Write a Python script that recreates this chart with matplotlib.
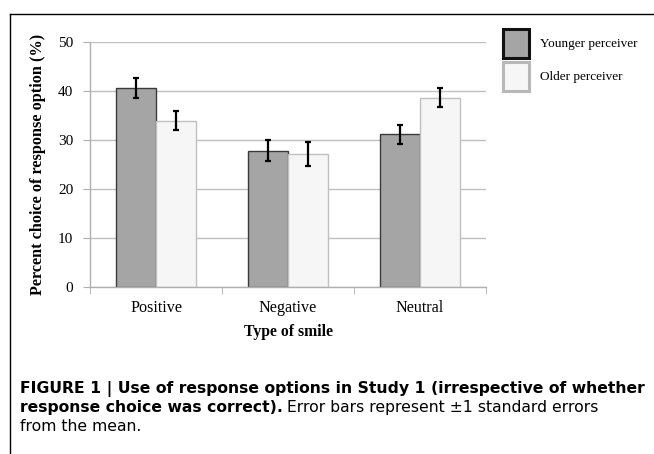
import numpy as np
import matplotlib
matplotlib.use("Agg")
import matplotlib.pyplot as plt
from matplotlib.patches import Patch
from matplotlib.lines import Line2D

categories = ["Positive", "Negative", "Neutral"]
younger = [40.7, 27.9, 31.2]
younger_se = [2.0, 2.1, 2.0]
older = [34.0, 27.2, 38.7]
older_se = [1.9, 2.4, 2.0]
yticks = [0, 10, 20, 30, 40, 50]

serif = "Liberation Serif"
sans = "DejaVu Sans"

fig = plt.figure(figsize=(6.54, 4.54), dpi=100)
ax = fig.add_axes([90/654, 1-287.3/454, 396/654, 245/454])

x = np.arange(len(categories))
w = 0.3
ax.bar(x - w/2, younger, w, color="#a5a5a5", edgecolor="#3a3a3a", linewidth=1.0, zorder=2)
ax.bar(x + w/2, older, w, color="#f6f6f6", edgecolor="#c0c0c0", linewidth=1.0, zorder=2)
ax.errorbar(x - w/2, younger, yerr=younger_se, fmt="none", ecolor="black",
            elinewidth=1.6, capsize=2.5, capthick=1.6, zorder=3)
ax.errorbar(x + w/2, older, yerr=older_se, fmt="none", ecolor="black",
            elinewidth=1.6, capsize=2.5, capthick=1.6, zorder=3)

ax.set_xlim(-0.5, len(categories) - 0.5)
ax.set_ylim(0, 50)
ax.set_yticks(yticks)
ax.yaxis.grid(True, color="#c0c0c0", linewidth=1.0, zorder=0)
ax.set_axisbelow(True)
for s in ["top", "right"]:
    ax.spines[s].set_visible(False)
for s in ["left", "bottom"]:
    ax.spines[s].set_color("#b0b0b0")
    ax.spines[s].set_linewidth(1.0)

ax.set_xticks(x)
ax.set_xticklabels(categories, fontfamily=serif, fontsize=11.6)
ax.set_xticks(np.arange(len(categories) + 1) - 0.5, minor=True)
ax.tick_params(axis="x", which="major", length=0, pad=9)
ax.tick_params(axis="x", which="minor", length=5, color="#b0b0b0", direction="out")
ax.tick_params(axis="y", length=5, color="#b0b0b0", pad=7)
for lab in ax.get_yticklabels():
    lab.set_fontfamily(serif)
    lab.set_fontsize(11)

ax.set_xlabel("Type of smile", fontfamily=serif, fontweight="bold", fontsize=11.3, labelpad=6)
ax.set_ylabel("Percent choice of response option (%)", fontfamily=serif,
              fontweight="bold", fontsize=11.7, labelpad=9)

handles = [Patch(facecolor="#a5a5a5", edgecolor="#111111", linewidth=2.2),
           Patch(facecolor="#f6f6f6", edgecolor="#b8b8b8", linewidth=2.2)]
fig.legend(handles, ["Younger perceiver", "Older perceiver"], loc="upper left",
           bbox_to_anchor=(503/654, 1-29/454), frameon=False, borderpad=0,
           borderaxespad=0, prop={"family": serif, "size": 9.5},
           handlelength=1.95, handleheight=3.0, labelspacing=0.3, handletextpad=0.85)

# frame lines
fig.add_artist(Line2D([10/654, 1], [1-14/454, 1-14/454], color="black", linewidth=1.0))
fig.add_artist(Line2D([10/654, 10/654], [0, 1-14/454], color="black", linewidth=1.0))

# caption
cap_size = 11.25
fig.text(20/654, 1-393/454, "FIGURE 1 | Use of response options in Study 1 (irrespective of whether",
         fontfamily=sans, fontweight="bold", fontsize=cap_size, va="baseline")
t_b = fig.text(20/654, 1-412/454, "response choice was correct).", fontfamily=sans,
               fontweight="bold", fontsize=cap_size, va="baseline")
fig.canvas.draw()
r = fig.canvas.get_renderer()
bb = t_b.get_window_extent(r)
fig.text(bb.x1/654 + 4/654, 1-412/454, "Error bars represent \u00b11 standard errors",
         fontfamily=sans, fontsize=cap_size, va="baseline")
fig.text(20/654, 1-431/454, "from the mean.", fontfamily=sans, fontsize=cap_size, va="baseline")

fig.savefig("out.png", dpi=100)
